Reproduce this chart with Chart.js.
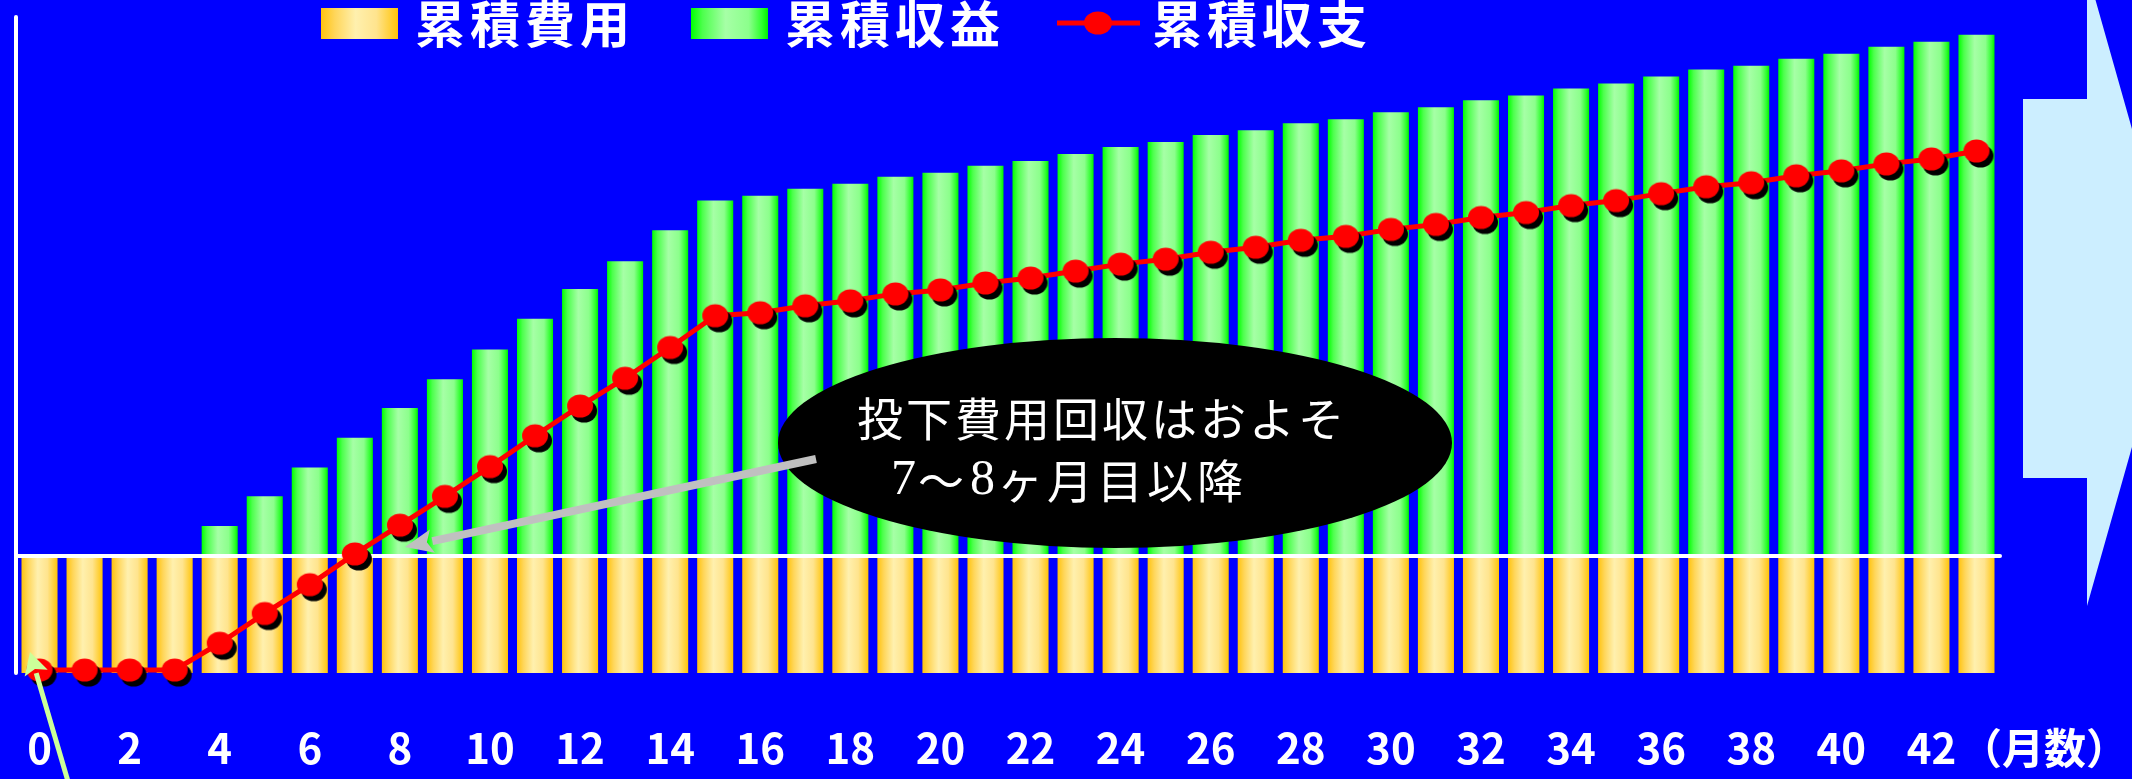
<!DOCTYPE html>
<html lang="ja">
<head>
<meta charset="utf-8">
<title>累積収支</title>
<script src="https://cdn.jsdelivr.net/npm/chart.js@4.4.1/dist/chart.umd.min.js"></script>
<style>
  html, body { margin: 0; padding: 0; background: #0000ff; overflow: hidden; }
  #wrap { width: 2132px; height: 779px; }
</style>
</head>
<body>
<div id="wrap"><canvas id="myChart" width="2132" height="779"></canvas></div>
<script>
// months since start
var months = [0, 1, 2, 3, 4, 5, 6, 7, 8, 9, 10, 11, 12, 13, 14, 15, 16, 17, 18, 19, 20, 21,
              22, 23, 24, 25, 26, 27, 28, 29, 30, 31, 32, 33, 34, 35, 36, 37, 38, 39, 40, 41, 42, 43];

// 累積費用 (negative, below zero)
var costData = [-118, -118, -118, -118, -118, -118, -118, -118, -118, -118, -118,
                -118, -118, -118, -118, -118, -118, -118, -118, -118, -118, -118,
                -118, -118, -118, -118, -118, -118, -118, -118, -118, -118, -118,
                -118, -118, -118, -118, -118, -118, -118, -118, -118, -118, -118];

// 累積収益
var revenueData = [0, 0, 0, 0, 30, 60, 89, 119, 149, 178, 208, 239, 269, 297, 328,
                   358, 363, 370, 375, 382, 386, 393, 398, 405, 412, 417, 424, 429, 436,
                   440, 447, 452, 459, 464, 471, 476, 483, 490, 494, 501, 506, 513, 518, 525];

// 累積収支
var balanceData = [-115, -115, -115, -115, -88, -58, -29, 2, 31, 60, 90, 121, 151, 179, 210,
                   242, 245, 252, 257, 264, 268, 275, 280, 287, 294, 299, 306, 311, 318,
                   322, 329, 334, 341, 346, 353, 358, 365, 372, 376, 383, 388, 395, 400, 408];

var seriesNames = ['累積費用', '累積収益', '累積収支'];
var axisUnit = '（月数）';
var noteLine1 = '投下費用回収はおよそ';
var noteLine2 = [['7', 'serif'], ['〜', 'sans'], ['8', 'serif'], ['ヶ月目以降', 'sans']];

var GOLD = [[0, '#ffc30d'], [0.18, '#ffd65a'], [0.45, '#fff0ae'], [0.72, '#ffe48e'], [1, '#ffc408']];
var GREEN = [[0, '#00ff00'], [0.15, '#4dff4d'], [0.45, '#a6ffa6'], [0.75, '#8cff8c'], [0.92, '#2eff2e'], [1, '#00f000']];
var JP = '"Noto Sans CJK JP", "Noto Sans", sans-serif';

function gradientFill(stops) {
    return function (c) {
        if (c.type !== 'data') return stops[0][1];
        var chart = c.chart, xs = chart.scales.x;
        if (!xs || !chart.chartArea) return stops[0][1];
        var cx = xs.getPixelForValue(c.dataIndex);
        var half = (xs.width / months.length) * 0.8 / 2;
        var g = chart.ctx.createLinearGradient(cx - half, 0, cx + half, 0);
        stops.forEach(function (s) { g.addColorStop(s[0], s[1]); });
        return g;
    };
}

function boxGradient(ctx, x, w, stops) {
    var g = ctx.createLinearGradient(x, 0, x + w, 0);
    stops.forEach(function (s) { g.addColorStop(s[0], s[1]); });
    return g;
}

// red marker with black drop shadow
function makeMarker() {
    var cv = document.createElement('canvas');
    cv.width = 46; cv.height = 46;
    var g = cv.getContext('2d');
    g.fillStyle = '#000000';
    g.beginPath(); g.ellipse(27, 28, 13, 11.5, 0, 0, Math.PI * 2); g.fill();
    g.fillStyle = '#ff0000';
    g.beginPath(); g.ellipse(23, 23, 13, 11.5, 0, 0, Math.PI * 2); g.fill();
    return cv;
}

function arrow(ctx, x1, y1, tipX, tipY, width, headLen, headHalf, color) {
    var dx = x1 - tipX, dy = y1 - tipY;
    var len = Math.sqrt(dx * dx + dy * dy);
    var ux = dx / len, uy = dy / len;
    var bx = tipX + ux * headLen, by = tipY + uy * headLen;
    ctx.strokeStyle = color; ctx.fillStyle = color; ctx.lineWidth = width;
    ctx.beginPath(); ctx.moveTo(x1, y1); ctx.lineTo(bx, by); ctx.stroke();
    ctx.beginPath();
    ctx.moveTo(tipX, tipY);
    ctx.lineTo(bx - uy * headHalf, by + ux * headHalf);
    ctx.lineTo(tipX + ux * headLen * 0.8, tipY + uy * headLen * 0.8);
    ctx.lineTo(bx + uy * headHalf, by - ux * headHalf);
    ctx.closePath(); ctx.fill();
}

var decoPlugin = {
    id: 'deco',
    beforeDatasetsDraw: function (chart) {
        var ctx = chart.ctx, a = chart.chartArea;
        ctx.save();
        ctx.strokeStyle = '#ffffff'; ctx.lineWidth = 4; ctx.lineCap = 'round';
        ctx.beginPath(); ctx.moveTo(a.left - 1, a.top); ctx.lineTo(a.left - 1, a.bottom); ctx.stroke();
        ctx.restore();
    },
    afterDatasetDraw: function (chart, args) {
        if (args.index !== 1) return;
        // zero line over the bars, under the balance line
        var ctx = chart.ctx, a = chart.chartArea;
        var y0 = chart.scales.y.getPixelForValue(0);
        ctx.save();
        ctx.strokeStyle = '#ffffff'; ctx.lineWidth = 4; ctx.lineCap = 'round';
        ctx.beginPath(); ctx.moveTo(a.left - 1, y0); ctx.lineTo(a.right + 1, y0); ctx.stroke();
        ctx.restore();
    },
    afterDraw: function (chart) {
        var ctx = chart.ctx;
        ctx.save();

        // legend
        ctx.fillStyle = boxGradient(ctx, 321, 77, GOLD);
        ctx.fillRect(321, 8, 77, 31);
        ctx.fillStyle = boxGradient(ctx, 691, 77, GREEN);
        ctx.fillRect(691, 8, 77, 31);
        ctx.strokeStyle = '#ff0000'; ctx.lineWidth = 5;
        ctx.beginPath(); ctx.moveTo(1057, 23); ctx.lineTo(1140, 23); ctx.stroke();
        ctx.fillStyle = '#ff0000';
        ctx.beginPath(); ctx.ellipse(1098, 23, 14, 11.5, 0, 0, Math.PI * 2); ctx.fill();

        ctx.fillStyle = '#ffffff';
        ctx.font = 'bold 50px ' + JP;
        ctx.letterSpacing = '5px';
        ctx.textBaseline = 'middle';
        ctx.textAlign = 'left';
        ctx.fillText(seriesNames[0], 415, 24);
        ctx.fillText(seriesNames[1], 785, 24);
        ctx.fillText(seriesNames[2], 1152, 24);

        // axis unit after the last tick
        ctx.letterSpacing = '0px';
        ctx.font = 'bold 42px ' + JP;
        ctx.fillText(axisUnit, 1960, 748);

        // big pale arrow on the right
        ctx.fillStyle = '#cceeff';
        ctx.beginPath();
        ctx.moveTo(2023, 99); ctx.lineTo(2087, 99); ctx.lineTo(2087, -30);
        ctx.lineTo(2177, 288); ctx.lineTo(2087, 606); ctx.lineTo(2087, 478);
        ctx.lineTo(2023, 478); ctx.closePath(); ctx.fill();

        // callout
        ctx.fillStyle = '#000000';
        ctx.beginPath(); ctx.ellipse(1115, 443, 337, 105, 0, 0, Math.PI * 2); ctx.fill();
        ctx.fillStyle = '#ffffff';
        ctx.font = '46px ' + JP;
        ctx.letterSpacing = '3px';
        ctx.fillText(noteLine1, 857, 419);
        var x = 891;
        noteLine2.forEach(function (seg) {
            ctx.font = seg[1] === 'serif' ? '50px "Liberation Serif", serif' : '46px ' + JP;
            ctx.letterSpacing = seg[1] === 'serif' ? '0px' : '4px';
            ctx.fillText(seg[0], x, 481);
            x += ctx.measureText(seg[0]).width + 2;
        });
        ctx.letterSpacing = '0px';

        // grey arrow to the break-even month
        arrow(ctx, 816, 459, 405, 547, 8, 28, 12, '#c0c0c0');
        // light green arrow to month 0
        arrow(ctx, 72, 795, 30, 652, 5, 22, 12, '#ccff99');

        ctx.restore();
    }
};

var ctx = document.getElementById('myChart');
var myChart = new Chart(ctx, {
    type: 'bar',
    data: {
        labels: months,
        datasets: [{
            label: seriesNames[0],
            data: costData,
            backgroundColor: gradientFill(GOLD),
            borderWidth: 0,
            grouped: false,
            barPercentage: 0.8,
            categoryPercentage: 1.0,
            order: 2
        }, {
            label: seriesNames[1],
            data: revenueData,
            backgroundColor: gradientFill(GREEN),
            borderWidth: 0,
            grouped: false,
            barPercentage: 0.8,
            categoryPercentage: 1.0,
            order: 1
        }, {
            type: 'line',
            label: seriesNames[2],
            data: balanceData,
            borderColor: '#ff0000',
            borderWidth: 5,
            pointStyle: makeMarker(),
            pointRadius: 12,
            tension: 0,
            clip: false,
            order: 0
        }]
    },
    options: {
        responsive: false,
        animation: false,
        events: [],
        layout: { padding: { top: 12, left: 12, right: 133, bottom: 0 } },
        plugins: {
            legend: { display: false },
            tooltip: { enabled: false }
        },
        scales: {
            x: {
                grid: { display: false, drawTicks: false },
                border: { display: false },
                ticks: {
                    color: '#ffffff',
                    font: { family: JP, size: 42, weight: 'bold' },
                    padding: 50,
                    autoSkip: false,
                    maxRotation: 0,
                    callback: function (v, i) { return i % 2 === 0 ? String(months[i]) : ''; }
                },
                afterFit: function (s) {
                    s.height = 106;
                    s.paddingLeft = 0;
                    s.paddingRight = 0;
                }
            },
            y: {
                display: false,
                min: -118,
                max: 543
            }
        }
    },
    plugins: [decoPlugin]
});
</script>
</body>
</html>
